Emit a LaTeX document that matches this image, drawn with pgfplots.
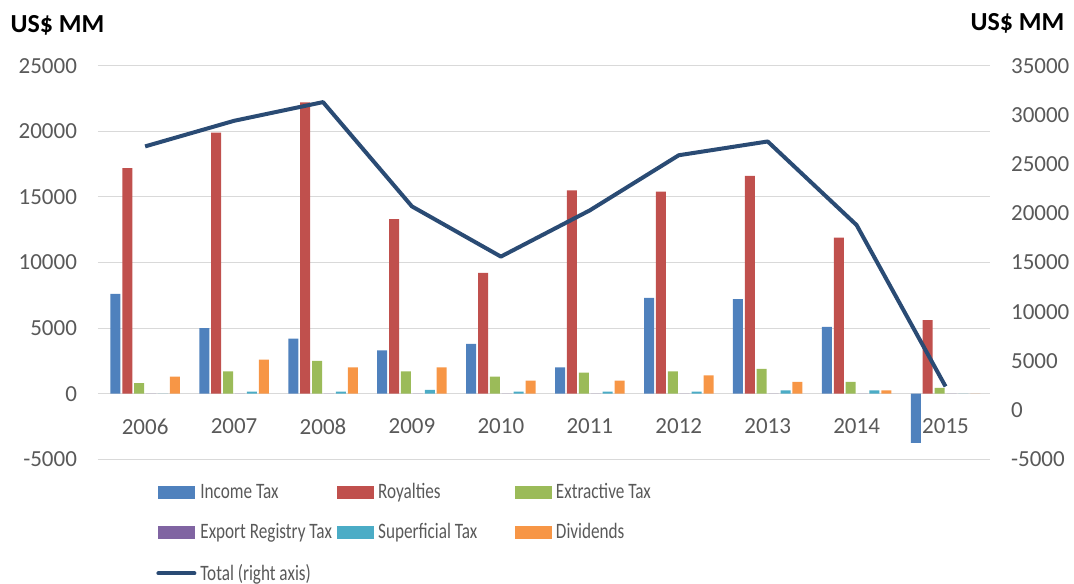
\documentclass[border=0pt]{standalone}
\usepackage{fontspec}
\setmainfont{Carlito}
\newfontfamily\legfont[FakeStretch=0.78]{Carlito}
\usepackage{pgfplots}
\usepackage{pgfplotstable}
\pgfplotsset{compat=1.18}

\definecolor{cInc}{HTML}{4F81BD}
\definecolor{cRoy}{HTML}{C0504D}
\definecolor{cExt}{HTML}{9BBB59}
\definecolor{cExp}{HTML}{8064A2}
\definecolor{cSup}{HTML}{4BACC6}
\definecolor{cDiv}{HTML}{F79646}
\definecolor{cTot}{HTML}{2A4B74}
\definecolor{cTxt}{HTML}{595959}
\definecolor{cGrid}{HTML}{D9D9D9}

\pgfplotstableread{
year inc roy ext exp sup div tot
0 7600 17200 800 0 0 1300 26800
1 5000 19900 1700 0 150 2600 29400
2 4200 22200 2500 0 150 2000 31300
3 3300 13300 1700 0 300 2000 20700
4 3800 9200 1300 0 150 1000 15600
5 2000 15500 1600 0 150 1000 20300
6 7300 15400 1700 0 150 1400 25900
7 7200 16600 1900 0 250 900 27300
8 5100 11900 900 0 250 250 18800
9 -3750 5600 450 0 0 0 2400
}\data

\newcommand{\lb}[1]{\makebox[66.5pt][l]{#1}}

\pgfplotsset{
  barleg/.style={legend image code/.code={\fill[#1] (0pt,-3pt) rectangle (18pt,3pt);}},
  common/.style={
    scale only axis, width=446pt, height=196.8pt,
    xmin=-0.53, xmax=9.5,
    font=\fontsize{11.5}{13}\selectfont,
    tick style={draw=none},
    scaled y ticks=false,
    /pgf/number format/assume math mode=true,
    /pgf/number format/1000 sep={},
    ticklabel style={text=cTxt},
  },
}

\begin{document}
\begin{tikzpicture}
\begin{axis}[common,
  ymin=-5000, ymax=25000,
  ytick={-5000,0,5000,10000,15000,20000,25000},
  axis y line*=left, axis x line*=middle,
  y axis line style={draw=none},
  x axis line style={draw=cGrid, line width=0.6pt},
  ymajorgrids, grid style={cGrid, line width=0.5pt},
  xtick={0,...,9}, xticklabels={2006,2007,2008,2009,2010,2011,2012,2013,2014,2015},
  xticklabel style={yshift=-4.8pt},
  yticklabel style={anchor=east, xshift=-7pt},
  ybar=0.95pt, bar width=5pt,
]
\coordinate (ll) at (rel axis cs:0,0);
\coordinate (ur) at (rel axis cs:1,1);
\addplot[fill=cInc, draw=none] table[x=year,y=inc]{\data};
\addplot[fill=cRoy, draw=none] table[x=year,y=roy]{\data};
\addplot[fill=cExt, draw=none] table[x=year,y=ext]{\data};
\addplot[fill=cExp, draw=none] table[x=year,y=exp]{\data};
\addplot[fill=cSup, draw=none] table[x=year,y=sup]{\data};
\addplot[fill=cDiv, draw=none] table[x=year,y=div]{\data};
\end{axis}
\begin{axis}[common,
  ymin=-5000, ymax=35000,
  ytick={-5000,0,5000,10000,15000,20000,25000,30000,35000},
  axis y line*=right, hide x axis,
  y axis line style={draw=none},
  yticklabel style={anchor=west, xshift=7pt},
  legend columns=3,
  legend cell align=left,
  legend style={draw=none, fill=none, inner sep=0pt,
    at={(axis description cs:0.0650,-0.0500)}, anchor=north west,
    font=\fontsize{11}{12.5}\selectfont\legfont, text=cTxt,
    /tikz/every even column/.append style={column sep=0pt},
    /tikz/every odd column/.append style={column sep=0pt},
    row sep=7pt},
]
\addlegendimage{barleg=cInc}
\addlegendentry{\lb{Income Tax}}
\addlegendimage{barleg=cRoy}
\addlegendentry{\lb{Royalties}}
\addlegendimage{barleg=cExt}
\addlegendentry{Extractive Tax}
\addlegendimage{barleg=cExp}
\addlegendentry{\lb{Export Registry Tax}}
\addlegendimage{barleg=cSup}
\addlegendentry{\lb{Superficial Tax}}
\addlegendimage{barleg=cDiv}
\addlegendentry{Dividends}
\addplot[cTot, line width=2pt, line join=round,
  legend image code/.code={\draw[cTot, line width=2pt, line cap=round] (0pt,0pt) -- (18pt,0pt);}]
  table[x=year,y=tot]{\data};
\addlegendentry{\lb{Total (right axis)}}
\end{axis}
\node[font=\fontsize{13}{15}\selectfont\bfseries] at ([shift={(-20.25pt,20.35pt)}]ll|-ur) {US\$ MM};
\node[font=\fontsize{13}{15}\selectfont\bfseries] at ([shift={(13.75pt,21.35pt)}]ur) {US\$ MM};
\pgfresetboundingbox
\path ([shift={(-49pt,-61.85pt)}]ll) rectangle ++(537pt,291.5pt);
\end{tikzpicture}
\end{document}
